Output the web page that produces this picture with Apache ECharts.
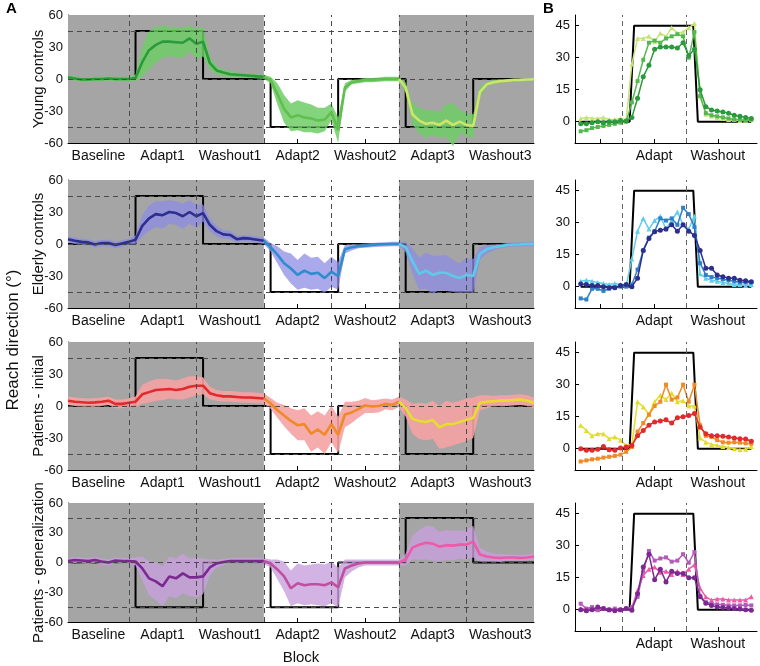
<!DOCTYPE html>
<html><head><meta charset="utf-8">
<script src="https://cdn.jsdelivr.net/npm/echarts@6/dist/echarts.min.js"></script>
<style>html,body{margin:0;padding:0;background:#fff}#c{width:760px;height:666px}</style>
</head><body><div id="c"></div>
<script>
// ---------- Panel A: block structure ----------
const blockNames = ['Baseline','Adapt1','Washout1','Adapt2','Washout2','Adapt3','Washout3'];
const blockCenters = [4.5,14,24,34,44,54,64];
const blockTicks = [4.5,9,14,19,24,29,34,39,44,49,54,59,64];
const blockBounds = [9,19,29,39,49,59];
const grayAreas = [[0,29],[49,69]];
const levelLines = [45,0,-45];
const rowNames = ['Young controls','Elderly controls','Patients - initial','Patients - generalization'];
const pertStart = [10,30,50];
const pertEnd = [20,40,60];
const pertLevels = [[45,-45,-45],[45,-45,-45],[45,-45,-45],[-45,-45,45]];
const segRanges = [[0,29],[29,49],[49,69]];

// bin index 0..69
const binsA = [];
for (let i = 0; i < 70; i++) binsA.push(i);

// ---------- Panel A means and half-widths ----------
const youngMean = [1.5,0.5,-0.5,-0.5,0,0,0.5,0,0,0,
  1,16,27,32,35,35,34.5,34,38,33,
  35,15,8,6,4.5,4,3.5,3,2.5,2,
  -1,-14,-28,-36,-34,-36,-37,-39,-38,-31,
  -48,-8,-3,-2,-1,-1,-0.5,0,0,0,
  -8,-33,-39,-42,-41,-43,-39,-43,-40,-43,
  -44,-12,-5,-3,-2,-1.5,-1,-0.8,-0.5,-0.3];
const youngHw = [2,2,2,2,2,2,2,2,2,2,
  3,14,18,17,15,14,14,14,12,14,
  14,6,4,3,3,2,2,2,2,2,
  3,10,13,13,14,14,13,12,11,8,
  12,4,2,2,2,2,2,2,2,2,
  5,10,12,13,12,12,15,20,11,11,
  11,5,2,2,2,1.5,1.5,1.5,1.5,1.5];
const elderMean = [4.5,3,2,1.5,-0.5,1,1,-1,0.5,2,
  4,17,24,28,27,30,29,26,30,26,
  29,18,12,9,8.5,4.5,5.5,5,4,3,
  -3,-10,-18,-23,-29,-25,-28,-27,-32,-26,
  -30,-5,-3,-2,-1.5,-1,-0.5,-0.3,0,0,
  -3,-16,-28,-25,-29,-27,-27,-30,-32,-29,
  -30,-9,-5,-3,-2,-1,-0.5,-0.3,0,0];
const elderHw = [3,3,3,3,3,3,3,3,3,3,
  4,10,12,12,13,11,11,12,11,11,
  8,6,5,4,4,3,3,3,3,3,
  4,8,11,14,14,16,15,15,14,14,
  13,4,3,2,2,2,2,2,2,2,
  5,12,15,17,18,16,17,15,14,16,
  16,6,4,3,2,2,2,2,2,2];
const patMean = [5,4,3.5,3,3.4,4,5,2,2,3,
  4,11,13,15,15.5,16,15,16,18,19,
  19,12,10,9,9,8.5,8,8,7.5,7,
  2.5,-4,-9,-14,-18,-17,-26,-22,-27,-17,
  -27,-8,-6,-3,0.5,-0.5,0,2,1,4,
  -2,-12,-14,-15,-13,-20,-17,-17,-15,-13,
  -11,3,4,4.5,5,5,5.5,6,5,3];
const patHw = [4,4,4,4,4,4,4,4,4,4,
  5,9,10,10,10,9,9,10,10,9,
  8,6,5,5,5,5,5,5,5,5,
  5,7,10,12,14,15,17,17,18,17,
  17,12,10,8,7,6,6,5,5,5,
  8,14,17,17,18,20,22,20,20,20,
  19,7,6,5,5,5,5,5,5,5];
const genMean = [1.5,2.5,2,1.5,2.5,1,0,2,1.5,1.5,
  1,-6,-16,-19,-24,-14,-16,-11,-15,-15,
  -14,-5,-1,0.5,1.5,1.5,1.5,1.5,1.5,1.5,
  -1,-7,-14,-26,-21,-23,-22,-22,-23,-20,
  -25,-6,-3,-1,0,0,0,0,0,0,
  3,15,18,20,19,16,17.5,17,18,18,
  21,8,6,5,4.5,5,5,4.5,5,6];
const genHw = [3,3,3,3,3,3,3,3,3,3,
  4,12,17,19,20,20,20,20,19,20,
  18,8,4,3,3,3,3,3,3,3,
  4,10,15,18,20,20,20,21,21,21,
  20,9,6,4,3,3,3,3,3,3,
  6,12,15,17,17,15,15,15,14,15,
  16,7,5,4,4,3,3,3,3,3];

const meansA = [youngMean, elderMean, patMean, genMean];
const hwA = [youngHw, elderHw, patHw, genHw];
const segColors = [
  ['#2b9a3c','#62bf4f','#cfe46a'],
  ['#2c2f8e','#2f8ccd','#5ccbe9'],
  ['#e2292b','#f08a26','#e6de2c'],
  ['#7b2991','#c04f9f','#ef5aa8']
];
const bandColors = ['#6fcc66','#8d8ce4','#f5a2a4','#c7a0dc'];
const bandOpacity = [0.85,0.75,0.9,0.8];

// ---------- Panel B ----------
const trialsB = [];
for (let i = 1; i <= 31; i++) trialsB.push(i);
const bTicks = [4.4,8.3,13.9,19.5,25.1];
const bLabelPos = [13.9,25.1];
const bLabelNames = ['Adapt','Washout'];
const bBounds = [8.3,19.5];
const bYLabels = [0,15,30,45];
const stepBx = [1,9.6,10.4,20.8,21.6,31];
const stepBy = [0,0,45,45,0,0];

const bYoung = [
  [-1,-1,-0.5,0,-0.5,0,0,0.5,0.3,2,11,21,26.5,34,35,35,35,34.5,37,31,34,15,7,5.5,5,4.5,4,3,2.5,2,1.5],
  [-4.5,-4,-3,-2.5,-2,-1.5,-1,-0.5,0,9,19,29,37,38,37,39,40,41,40,30,42,12,4,3,2.5,2,1.5,1,1,0.5,1],
  [1.5,2,1.5,1.5,2,1,1,1.5,1,27,39,39,40,37.5,41.5,40,44,41.5,42,44,46,12,3.5,2.7,2,1.5,1,1,0.5,0.5,1]
];
const bElder = [
  [1.2,1,0.5,0.5,0,-0.5,-0.5,0.5,1,0,4,17,22.6,25.8,26.5,27,29,26,29,26,24,17,8.6,8.6,5.5,4.7,4,4,3,2.8,2.3],
  [-5.5,-6,-1,-1,-2,-1,-0.5,0,0,1,8,17,23,26,32,31,32,29,37,34,28,11,5.5,4.5,4,3.5,3,2.5,2,2,2],
  [2.5,3,2.5,2,1.5,1,1.5,1,0.5,13,26,32,27,31,33,27,31,35,29,27,33,6,4,3,2.5,2,1.5,1,1,0.5,1]
];
const bPat = [
  [0,-0.8,-0.8,-0.3,1,-0.5,-0.8,0.3,0.8,1.5,6,8.5,11,12.5,13,13.5,12,14.5,15,15.5,16.5,10,7,6,6,5.8,5.5,5,4.7,4.5,3.5],
  [-6,-5.5,-5,-4.7,-4.2,-3.8,-3.4,-2.8,-1.5,0.8,8,12,16,20,22,30,23,24,30,22,30,11,6,5.5,4,3,2.8,3,2.8,2.5,2.3],
  [11,8.5,6,7,7,4.7,5.5,4,1.5,2,22,19.5,16,22,25,23,26,22,22.5,20,20,5,3,2,1.5,1,0.5,0,-0.5,-0.3,1]
];
const bGen = [
  [0,-0.5,0,1.2,0.5,0,-0.5,0,0.5,-0.3,7.5,20,26,14,19,13,18,17,17,15,15,6,3,2,1.2,1,0.8,0.5,0.3,0,-0.3],
  [2.8,0.5,1.2,0,0.5,0,0.5,0,0.5,1.2,6,18,27.5,23,24,24.5,22.5,23,26,22,27,6.5,3.5,2.8,2.5,2.3,2,2,2,2.2,2],
  [0.5,0,0.5,0,0.5,0,0.3,0,0.5,1,9,16,19,20,17.5,18,16.5,18,16.5,19,21,10,6,4.5,5,5,4.5,4.5,4.5,4.5,6]
];
const seriesB = [bYoung, bElder, bPat, bGen];
const bSymbols = ['circle','rect','triangle'];
const bColors = [
  ['#2b9a3c','#55b84f','#c8e27a'],
  ['#2c2f8e','#2f80c8','#60cde9'],
  ['#e2292b','#f08a26','#e2dc2a'],
  ['#7b2991','#b25bb8','#ef5aa8']
];

// ---------- layout ----------
const rowTops = [15,180,342,503];
const FONT = 'Liberation Sans, Arial, Helvetica, sans-serif';

const grids = [], xAxes = [], yAxes = [], series = [];

function stepPointsA(r) {
  const pts = [[0,0]];
  for (let b = 0; b < 3; b++) {
    pts.push([pertStart[b],0],[pertStart[b],pertLevels[r][b]],[pertEnd[b],pertLevels[r][b]],[pertEnd[b],0]);
  }
  pts.push([69,0]);
  return pts;
}

for (let r = 0; r < 4; r++) {
  const ga = grids.length;
  grids.push({left:68, top:rowTops[r], width:466, height:128});
  xAxes.push({gridIndex:ga, type:'value', min:0, max:69,
    axisLine:{show:true, onZero:false, lineStyle:{color:'#000', width:1}},
    axisTick:{show:true, inside:true, length:4, customValues:blockTicks, lineStyle:{color:'#000'}},
    axisLabel:{customValues:blockCenters, fontSize:14, color:'#111', margin:6, fontFamily:FONT,
      formatter:function(v){ const i = blockCenters.indexOf(v); return i>=0 ? blockNames[i] : ''; }},
    splitLine:{show:false},
    name: r===3 ? 'Block' : '', nameLocation:'middle', nameGap:28, nameMoveOverlap:false,
    nameTextStyle:{fontSize:15, color:'#111', fontFamily:FONT}
  });
  yAxes.push({gridIndex:ga, type:'value', min:-60, max:60, interval:15,
    axisLine:{show:true, onZero:false, lineStyle:{color:'#000', width:1}},
    axisTick:{show:true, inside:true, length:4, lineStyle:{color:'#000'}},
    axisLabel:{fontSize:13, color:'#111', margin:5, fontFamily:FONT,
      formatter:function(v){ return (v % 30 === 0) ? String(v) : ''; }},
    splitLine:{show:false},
    name: rowNames[r], nameLocation:'middle', nameGap:22, nameMoveOverlap:false,
    nameTextStyle:{fontSize:15, color:'#111', fontFamily:FONT}
  });
  series.push({type:'line', xAxisIndex:ga, yAxisIndex:ga, data:[], z:0, silent:true,
    markArea:{silent:true, itemStyle:{color:'#a5a5a5'},
      data: grayAreas.map(g => [{xAxis:g[0]},{xAxis:g[1]}])}});
  series.push({type:'line', xAxisIndex:ga, yAxisIndex:ga, data:[], z:1, silent:true,
    markLine:{silent:true, symbol:'none', label:{show:false},
      lineStyle:{color:'#4a4a4a', width:1, type:[5,4]},
      data: levelLines.map(v => ({yAxis:v})).concat(blockBounds.map(v => ({xAxis:v})))}});
  series.push({type:'line', xAxisIndex:ga, yAxisIndex:ga, data:stepPointsA(r), z:2,
    showSymbol:false, symbol:'none', lineStyle:{color:'#000', width:2}, silent:true});
  const mean = meansA[r], hw = hwA[r];
  series.push({type:'custom', xAxisIndex:ga, yAxisIndex:ga, z:3, silent:true,
    data: binsA.map((x,i) => [x, mean[i]-hw[i], mean[i]+hw[i]]),
    encode:{x:0, y:[1,2]},
    renderItem:(function(mean,hw,color,op){ return function(params, api){
      if (params.dataIndexInside !== 0) return null;
      const up = [], lo = [];
      for (let i = 0; i < binsA.length; i++) {
        up.push(api.coord([binsA[i], mean[i]+hw[i]]));
        lo.push(api.coord([binsA[i], mean[i]-hw[i]]));
      }
      return {type:'polygon', shape:{points: up.concat(lo.reverse())}, style:{fill:color, opacity:op}};
    };})(mean,hw,bandColors[r],bandOpacity[r])
  });
  for (let s = 0; s < 3; s++) {
    const d = [];
    for (let i = segRanges[s][0]; i <= segRanges[s][1]; i++) d.push([binsA[i], mean[i]]);
    series.push({type:'line', xAxisIndex:ga, yAxisIndex:ga, data:d, z:4+s, silent:true,
      showSymbol:false, symbol:'none', lineStyle:{color:segColors[r][s], width:2.6}});
  }
}

for (let r = 0; r < 4; r++) {
  const gb = grids.length;
  grids.push({left:575, top:rowTops[r], width:182, height:128});
  xAxes.push({gridIndex:gb, type:'value', min:0, max:32,
    axisLine:{show:true, onZero:false, lineStyle:{color:'#000', width:1}},
    axisTick:{show:true, inside:true, length:4, customValues:bTicks, lineStyle:{color:'#000'}},
    axisLabel:{customValues:bLabelPos, fontSize:14, color:'#111', margin:6, fontFamily:FONT,
      formatter:function(v){ const i = bLabelPos.indexOf(v); return i>=0 ? bLabelNames[i] : ''; }},
    splitLine:{show:false}
  });
  yAxes.push({gridIndex:gb, type:'value', min:-10, max:50,
    axisLine:{show:true, onZero:false, lineStyle:{color:'#000', width:1}},
    axisTick:{show:true, inside:true, length:4, customValues:bYLabels, lineStyle:{color:'#000'}},
    axisLabel:{customValues:bYLabels, fontSize:13, color:'#111', margin:5, fontFamily:FONT},
    splitLine:{show:false}
  });
  series.push({type:'line', xAxisIndex:gb, yAxisIndex:gb, data:[], z:1, silent:true,
    markLine:{silent:true, symbol:'none', label:{show:false},
      lineStyle:{color:'#666', width:1, type:[5,4]},
      data: bBounds.map(v => ({xAxis:v}))}});
  series.push({type:'line', xAxisIndex:gb, yAxisIndex:gb, z:2, silent:true,
    data: stepBx.map((x,i) => [x, stepBy[i]]),
    showSymbol:false, symbol:'none', lineStyle:{color:'#000', width:2}});
  for (let s = 2; s >= 0; s--) {
    const vals = seriesB[r][s];
    series.push({type:'line', xAxisIndex:gb, yAxisIndex:gb, z:3+(2-s), silent:true,
      data: trialsB.map((x,i) => [x, vals[i]]),
      symbol:bSymbols[s], symbolSize: s===1 ? 4 : 5, showSymbol:true,
      itemStyle:{color:bColors[r][s]},
      lineStyle:{color:bColors[r][s], width:1.5}});
  }
}

const option = {
  animation:false,
  backgroundColor:'#ffffff',
  textStyle:{fontFamily:FONT},
  grid:grids, xAxis:xAxes, yAxis:yAxes, series:series,
  graphic:[
    {type:'text', left:6, top:1, style:{text:'A', font:'bold 15px '+FONT, fill:'#000'}},
    {type:'text', left:543, top:1, style:{text:'B', font:'bold 15px '+FONT, fill:'#000'}},
    {type:'text', x:13, y:340, rotation:Math.PI/2,
      style:{text:'Reach direction (°)', font:'17px '+FONT, fill:'#111', align:'center', verticalAlign:'middle'}}
  ]
};
const chart = echarts.init(document.getElementById('c'), null, {renderer:'canvas'});
chart.setOption(option);
</script>
</body></html>
